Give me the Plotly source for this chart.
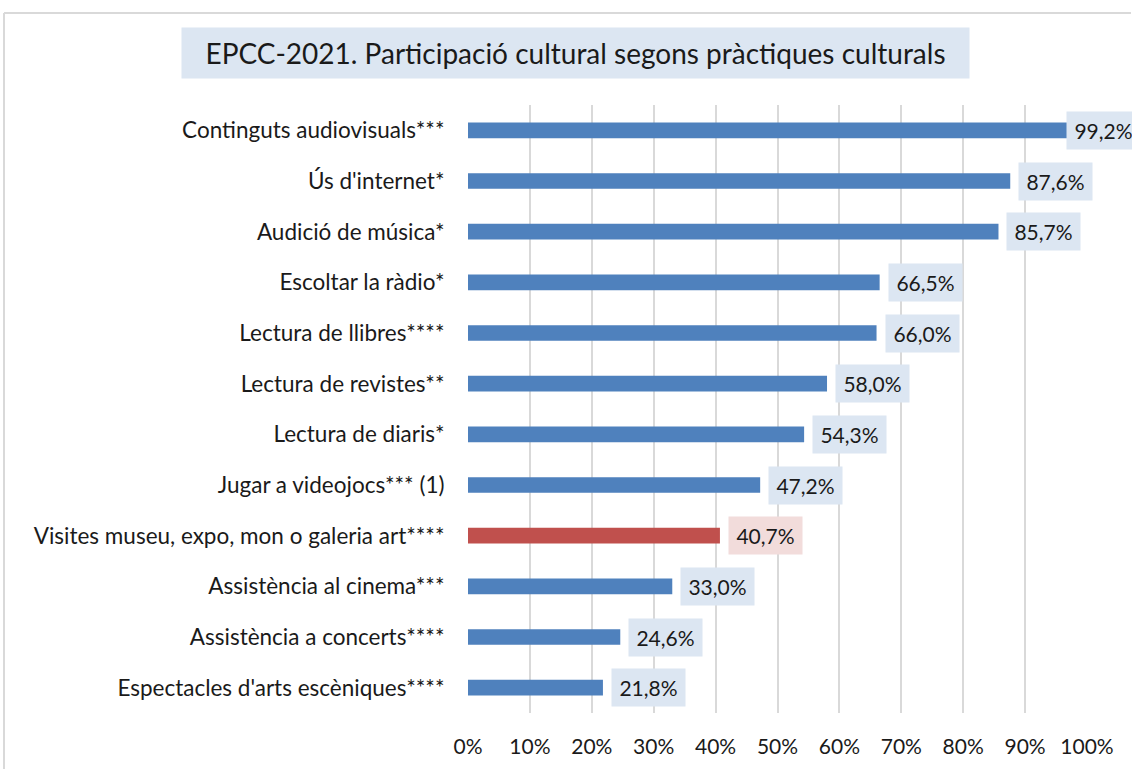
import plotly.graph_objects as go

categories = [
    "Continguts audiovisuals***",
    "Ús d'internet*",
    "Audició de música*",
    "Escoltar la ràdio*",
    "Lectura de llibres****",
    "Lectura de revistes**",
    "Lectura de diaris*",
    "Jugar a videojocs*** (1)",
    "Visites museu, expo, mon o galeria art****",
    "Assistència al cinema***",
    "Assistència a concerts****",
    "Espectacles d'arts escèniques****",
]
values = [99.2, 87.6, 85.7, 66.5, 66.0, 58.0, 54.3, 47.2, 40.7, 33.0, 24.6, 21.8]
highlight = "Visites museu, expo, mon o galeria art****"

FONT = "Lato"
blue, red = "#4f81bd", "#c0504d"
blue_bg, red_bg = "#dce6f2", "#f2dcdb"

bar_colors = [red if c == highlight else blue for c in categories]

# plot area in pixels
L, R, T, B = 468, 45, 105, 56
plot_w, plot_h = 1132 - L - R, 769 - T - B

fig = go.Figure()
fig.add_trace(go.Bar(
    x=[v / 100 for v in values],
    y=categories,
    orientation="h",
    marker=dict(color=bar_colors, line_width=0),
    hoverinfo="x+y",
))

# data labels with shaded boxes (the top one is pulled back over the bar end, like Excel)
for c, v in zip(categories, values):
    fig.add_annotation(
        x=v / 100, y=c, xref="x", yref="y",
        text=f"{v:.1f}%".replace(".", ","),
        showarrow=False, xanchor="left", xshift=-16 if v > 95 else 8,
        width=61, height=25, borderpad=6,
        bgcolor=red_bg if c == highlight else blue_bg,
        font=dict(family=FONT, size=21, color="#1a1a1a"),
    )

# title in a shaded box
fig.add_annotation(
    x=(575 - L) / plot_w, y=(769 - B - 53) / plot_h,
    xref="paper", yref="paper", xanchor="center", yanchor="middle",
    text="EPCC-2021. Participació cultural segons pràctiques culturals",
    showarrow=False, bgcolor=blue_bg,
    width=771, height=34, borderpad=8,
    font=dict(family=FONT, size=28, color="#1a1a1a"),
)

# outer chart border (top and left edges are the only ones inside the frame)
x_left = (4 - L) / plot_w
y_top = (769 - B - 13) / plot_h
border = dict(color="#d9d9d9", width=2)
fig.add_shape(type="line", xref="paper", yref="paper",
              x0=x_left, x1=(1131 - L) / plot_w, y0=y_top, y1=y_top, line=border)
fig.add_shape(type="line", xref="paper", yref="paper",
              x0=x_left, x1=x_left, y0=y_top, y1=-B / plot_h, line=border)

fig.update_layout(
    width=1132, height=769,
    margin=dict(l=L, r=R, t=T, b=B, autoexpand=False),
    plot_bgcolor="white", paper_bgcolor="white",
    bargap=0.69,
    showlegend=False,
    font=dict(family=FONT, size=22, color="#1a1a1a"),
    xaxis=dict(
        range=[0, 1], dtick=0.1, tickformat=".0%",
        showgrid=True, gridcolor="#d9d9d9", gridwidth=2,
        zeroline=False, showline=False,
        ticks="outside", ticklen=15, tickcolor="rgba(0,0,0,0)",
        tickfont=dict(family=FONT, size=21),
    ),
    yaxis=dict(
        autorange="reversed", showgrid=False, showline=False,
        ticks="outside", ticklen=18, tickcolor="rgba(0,0,0,0)",
        tickfont=dict(family=FONT, size=22.5),
    ),
)

fig.write_html(
    "out.html",
    config={"displayModeBar": False},
    post_script="document.body.style.margin='0';",
)
